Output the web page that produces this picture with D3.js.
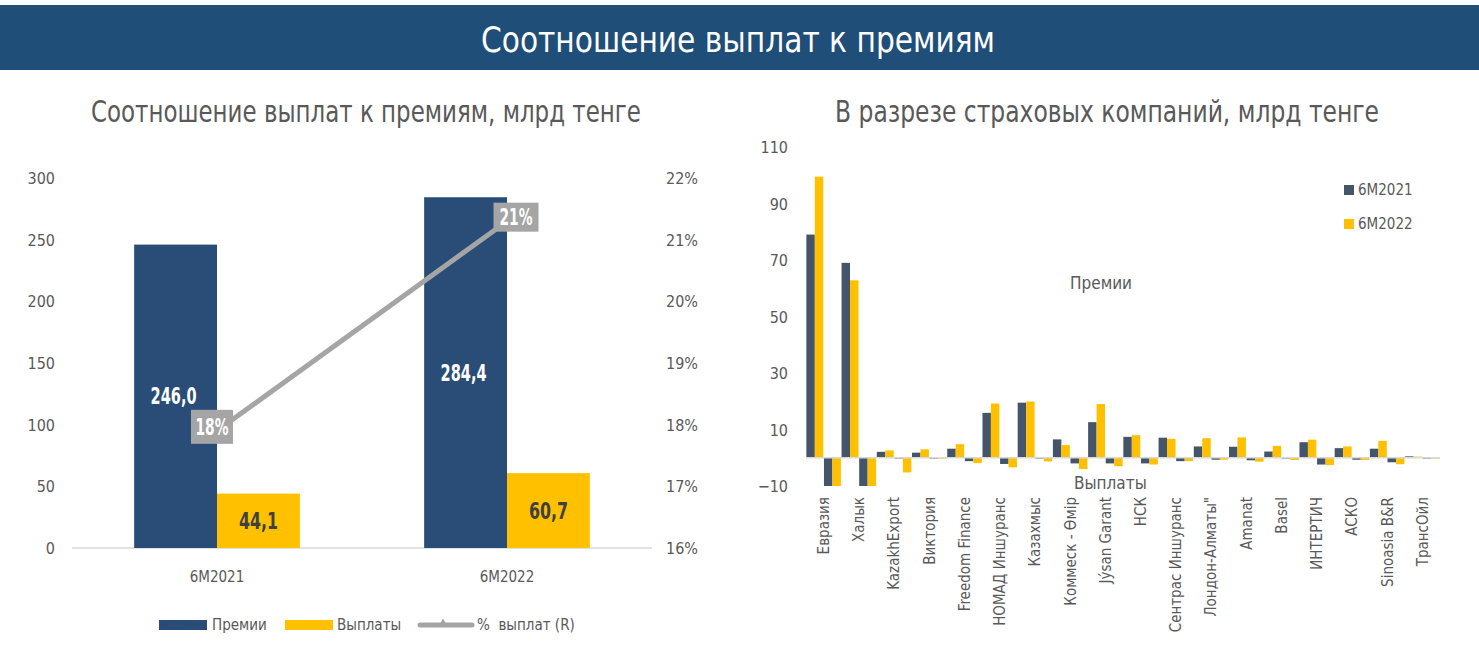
<!DOCTYPE html>
<html><head><meta charset="utf-8">
<script src="https://cdn.jsdelivr.net/npm/d3@7"></script>
<style>
html,body{margin:0;padding:0;background:#fff;}
svg text{font-family:"Liberation Sans Narrow","DejaVu Sans Condensed","Roboto",sans-serif;}
</style></head>
<body>
<svg id="c" width="1479" height="648"></svg>
<script>
// ---- Left chart data ----
const periods = ["6M2021", "6M2022"];
const premiums = [246.0, 284.4];
const payouts = [44.1, 60.7];
const payoutRatio = [0.179, 0.213];
const ratioLabels = ["18%", "21%"];
const leftTicks = [0, 50, 100, 150, 200, 250, 300];
const rightTicks = [0.16, 0.17, 0.18, 0.19, 0.20, 0.21, 0.22];

// ---- Right chart data ----
const companies = ["Евразия","Халык","KazakhExport","Виктория","Freedom Finance","НОМАД Иншуранс","Казахмыс","Коммеск - Өмір","Jýsan Garant","НСК","Сентрас Иншуранс","Лондон-Алматы\"","Amanat","Basel","ИНТЕРТИЧ","АСКО","Sinoasia B&R","ТрансОйл"];
const prem2021 = [79, 69, 2.1, 1.8, 3.2, 15.9, 19.5, 6.5, 12.6, 7.4, 7.1, 4.0, 3.9, 2.2, 5.5, 3.4, 3.2, 0.5];
const prem2022 = [99.5, 62.8, 2.6, 3.0, 4.8, 19.2, 19.9, 4.5, 19.0, 8.0, 6.7, 6.9, 7.2, 4.2, 6.4, 4.0, 6.0, 0.4];
const pay2021 = [-10, -10, -0.1, -0.3, -1.2, -2.2, -0.2, -2.0, -2.0, -2.0, -1.2, -0.7, -0.9, -0.1, -2.4, -0.7, -1.6, -0.1];
const pay2022 = [-10, -10, -5.2, -0.3, -1.9, -3.4, -1.3, -4.0, -3.0, -2.4, -1.2, -0.7, -1.4, -0.8, -2.6, -0.8, -2.3, -0.1];
const compTicks = [-10, 10, 30, 50, 70, 90, 110];
const seriesNames = ["6M2021", "6M2022"];

const C_NAVY = "#2A4D78", C_YEL = "#FFC000", C_GRAY = "#A5A5A5", C_SLATE = "#44546A", C_TXT = "#595959";

const svg = d3.select("#c");

// Header banner
svg.append("rect").attr("x", 0).attr("y", 5).attr("width", 1479).attr("height", 65).attr("fill", "#1F4E79");
svg.append("text").attr("x", 738).attr("y", 52).attr("text-anchor", "middle").attr("fill", "#fff")
  .attr("font-size", 36).attr("textLength", 514).attr("lengthAdjust", "spacingAndGlyphs")
  .text("Соотношение выплат к премиям");

// Titles
svg.append("text").attr("x", 366).attr("y", 122).attr("text-anchor", "middle").attr("fill", C_TXT)
  .attr("font-size", 30).attr("textLength", 550).attr("lengthAdjust", "spacingAndGlyphs")
  .text("Соотношение выплат к премиям, млрд тенге");
svg.append("text").attr("x", 1107).attr("y", 122).attr("text-anchor", "middle").attr("fill", C_TXT)
  .attr("font-size", 30).attr("textLength", 544).attr("lengthAdjust", "spacingAndGlyphs")
  .text("В разрезе страховых компаний, млрд тенге");

// ---------- Left chart ----------
const xL = d3.scaleBand().domain(periods).range([72, 652]).paddingInner(0).paddingOuter(0);
const grpW = xL.bandwidth() / 1.75;
const xSub = d3.scaleBand().domain(["p", "v"]).range([0, grpW]);
const yL = d3.scaleLinear().domain([0, 300]).range([548, 178]);
const yR = d3.scaleLinear().domain([0.16, 0.22]).range([548, 178]);

const gL = svg.append("g");
gL.append("line").attr("x1", 72).attr("x2", 652).attr("y1", yL(0)).attr("y2", yL(0)).attr("stroke", "#D9D9D9").attr("stroke-width", 1.5);

const axL = d3.axisLeft(yL).tickValues(leftTicks).tickSize(0).tickPadding(0).tickFormat(d3.format("d"));
const gAxL = svg.append("g").attr("transform", "translate(55,0)").call(axL);
gAxL.select(".domain").remove();
gAxL.selectAll("text").attr("font-size", 16).attr("fill", C_TXT).attr("dy", "0.35em");

const axR = d3.axisRight(yR).tickValues(rightTicks).tickSize(0).tickPadding(0).tickFormat(d3.format(".0%"));
const gAxR = svg.append("g").attr("transform", "translate(666,0)").call(axR);
gAxR.select(".domain").remove();
gAxR.selectAll("text").attr("font-size", 16).attr("fill", C_TXT).attr("dy", "0.35em");

const fmt = v => d3.format(".1f")(v).replace(".", ",");
periods.forEach((p, i) => {
  const x0 = xL(p) + (xL.bandwidth() - grpW) / 2;
  gL.append("rect").attr("x", x0 + xSub("p")).attr("width", xSub.bandwidth())
    .attr("y", yL(premiums[i])).attr("height", yL(0) - yL(premiums[i])).attr("fill", C_NAVY);
  gL.append("rect").attr("x", x0 + xSub("v")).attr("width", xSub.bandwidth())
    .attr("y", yL(payouts[i])).attr("height", yL(0) - yL(payouts[i])).attr("fill", C_YEL);
  gL.append("text").attr("x", x0 + xSub("p") + xSub.bandwidth() / 2 - 2).attr("y", yL(premiums[i] / 2)).attr("dy", "0.35em")
    .attr("text-anchor", "middle").attr("font-size", 23).attr("font-weight", "bold").attr("fill", "#fff")
    .attr("textLength", 46).attr("lengthAdjust", "spacingAndGlyphs")
    .text(fmt(premiums[i]));
  gL.append("text").attr("x", x0 + xSub("v") + xSub.bandwidth() / 2).attr("y", yL(payouts[i] / 2)).attr("dy", "0.35em")
    .attr("text-anchor", "middle").attr("font-size", 23).attr("font-weight", "bold").attr("fill", "#404040")
    .attr("textLength", 39).attr("lengthAdjust", "spacingAndGlyphs")
    .text(fmt(payouts[i]));
  gL.append("text").attr("x", xL(p) + xL.bandwidth() / 2).attr("y", 582).attr("text-anchor", "middle")
    .attr("font-size", 15).attr("fill", C_TXT).text(p);
});

// ratio line
const linePts = periods.map((p, i) => [xL(p) + xL.bandwidth() / 2, yR(payoutRatio[i])]);
gL.append("path").attr("d", d3.line()(linePts)).attr("fill", "none").attr("stroke", C_GRAY).attr("stroke-width", 5);
linePts.forEach((pt, i) => {
  const bw = i === 0 ? 42 : 45, bh = i === 0 ? 34 : 29;
  const cx = pt[0] + (i === 0 ? -5 : 9), cy = pt[1] + (i === 0 ? -4 : -4);
  gL.append("rect").attr("x", cx - bw / 2).attr("y", cy - bh / 2).attr("width", bw).attr("height", bh).attr("fill", C_GRAY);
  gL.append("text").attr("x", cx).attr("y", cy).attr("dy", "0.36em").attr("text-anchor", "middle")
    .attr("font-size", 23).attr("font-weight", "bold").attr("fill", "#fff")
    .attr("textLength", 33).attr("lengthAdjust", "spacingAndGlyphs").text(ratioLabels[i]);
});

// bottom legend
const lg = svg.append("g");
lg.append("rect").attr("x", 159).attr("y", 620).attr("width", 48).attr("height", 10).attr("fill", C_NAVY);
lg.append("text").attr("x", 212).attr("y", 630).attr("font-size", 15).attr("fill", C_TXT).text("Премии");
lg.append("rect").attr("x", 285).attr("y", 620).attr("width", 48).attr("height", 10).attr("fill", C_YEL);
lg.append("text").attr("x", 337).attr("y", 630).attr("font-size", 15).attr("fill", C_TXT).text("Выплаты");
lg.append("line").attr("x1", 420).attr("x2", 472).attr("y1", 625).attr("y2", 625).attr("stroke", C_GRAY).attr("stroke-width", 5).attr("stroke-linecap", "round");
lg.append("path").attr("d", d3.symbol().type(d3.symbolTriangle).size(40)()).attr("transform", "translate(443,624)").attr("fill", C_GRAY);
lg.append("text").attr("x", 477).attr("y", 630).attr("font-size", 15).attr("fill", C_TXT).attr("xml:space", "preserve").text("%  выплат (R)");

// ---------- Right chart ----------
const slots = [];
companies.forEach(c => { slots.push(c + "|p"); slots.push(c + "|v"); });
const xC = d3.scaleBand().domain(slots).range([806, 1440]).paddingInner(0.04).paddingOuter(0.02);
const xS = d3.scaleBand().domain(seriesNames).range([0, xC.bandwidth()]);
const yC = d3.scaleLinear().domain([-10, 110]).range([486, 147]).clamp(true);

const gC = svg.append("g");
const axC = d3.axisLeft(yC).tickValues(compTicks).tickSize(0).tickPadding(0).tickFormat(d3.format("d"));
const gAxC = svg.append("g").attr("transform", "translate(788,0)").call(axC);
gAxC.select(".domain").remove();
gAxC.selectAll("text").attr("font-size", 16).attr("fill", C_TXT).attr("dy", "0.35em");

const series = [
  { key: "p", vals: [prem2021, prem2022] },
  { key: "v", vals: [pay2021, pay2022] }
];
companies.forEach((c, i) => {
  series.forEach(s => {
    seriesNames.forEach((sn, j) => {
      const v = s.vals[j][i];
      const y0 = yC(0), y1 = yC(v);
      gC.append("rect").attr("x", xC(c + "|" + s.key) + xS(sn)).attr("width", xS.bandwidth())
        .attr("y", Math.min(y0, y1)).attr("height", Math.max(Math.abs(y1 - y0), 0.8))
        .attr("fill", j === 0 ? C_SLATE : C_YEL);
    });
  });
  const cx = xC(c + "|v");
  gC.append("text").attr("transform", `translate(${cx + 5},497) rotate(-90)`).attr("text-anchor", "end")
    .attr("font-size", 15).attr("fill", C_TXT).text(c);
});
gC.append("line").attr("x1", 806).attr("x2", 1440).attr("y1", yC(0)).attr("y2", yC(0)).attr("stroke", "#D9D9D9").attr("stroke-width", 1.5);

gC.append("text").attr("x", 1070).attr("y", 289).attr("font-size", 17).attr("fill", C_TXT).text("Премии");
gC.append("text").attr("x", 1074).attr("y", 489).attr("font-size", 17).attr("fill", C_TXT).text("Выплаты");

// right legend
seriesNames.forEach((sn, j) => {
  const y = 190 + j * 34;
  gC.append("rect").attr("x", 1344).attr("y", y - 5).attr("width", 10).attr("height", 10).attr("fill", j === 0 ? C_SLATE : C_YEL);
  gC.append("text").attr("x", 1358).attr("y", y).attr("dy", "0.35em").attr("font-size", 15).attr("fill", C_TXT).text(sn);
});
</script>
</body></html>
